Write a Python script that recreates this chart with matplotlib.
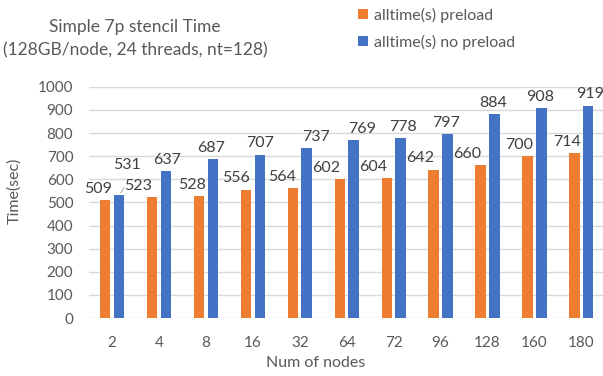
import numpy as np
import matplotlib
matplotlib.use("Agg")
import matplotlib.pyplot as plt

plt.rcParams["font.family"] = ["Lato", "DejaVu Sans"]

nodes = ["2", "4", "8", "16", "32", "64", "72", "96", "128", "160", "180"]
preload = [509, 523, 528, 556, 564, 602, 604, 642, 660, 700, 714]
no_preload = [531, 637, 687, 707, 737, 769, 778, 797, 884, 908, 919]

orange = "#ED7D31"
blue = "#4472C4"
grey = "#595959"
label_col = "#404040"

# label nudges (points) so the labels sit like the original
dx_orange = [-5, -10, -5, -7, -8, -10, -10, -10, -10, -6, -5]
dx_blue = [6, 1, -1, 0, 7, 6, 2, -1, -1, -1, 1]

fig = plt.figure(figsize=(6.03, 3.76), dpi=100)
ax = fig.add_axes([0.147, 0.154, 0.856, 0.615])

x = np.arange(len(nodes))
w = 0.223
off = 0.147
b1 = ax.bar(x - off, preload, w, color=orange, label="alltime(s) preload", zorder=3)
b2 = ax.bar(x + off, no_preload, w, color=blue, label="alltime(s) no preload", zorder=3)

for i, (bar, v) in enumerate(zip(b1, preload)):
    ax.annotate(str(v), (bar.get_x() + bar.get_width() / 2, v),
                xytext=(dx_orange[i], 3), textcoords="offset points",
                ha="center", va="bottom", fontsize=11.5, color=label_col)
for i, (bar, v) in enumerate(zip(b2, no_preload)):
    dy = 17 if i == 0 else 3
    ax.annotate(str(v), (bar.get_x() + bar.get_width() / 2, v),
                xytext=(dx_blue[i], dy), textcoords="offset points",
                ha="center", va="bottom", fontsize=11.5, color=label_col)
# leader line for the raised 531 label
ax.annotate("", (x[0] + off, no_preload[0]), xytext=(x[0] + off + 0.15, no_preload[0] + 45),
            arrowprops=dict(arrowstyle="-", color="#a6a6a6", lw=0.7))

ax.set_ylim(0, 1000)
ax.set_yticks(np.arange(0, 1001, 100))
ax.set_xlim(-0.5, len(nodes) - 0.5)
ax.set_xticks(x)
ax.set_xticklabels(nodes)
ax.yaxis.grid(True, color="#d9d9d9", lw=1, zorder=0)
for s in ax.spines.values():
    s.set_visible(False)
ax.tick_params(axis="both", length=0, labelsize=11, colors=grey)
ax.tick_params(axis="x", pad=13)
ax.tick_params(axis="y", pad=11)

ax.set_xlabel("Num of nodes", fontsize=11.5, color=grey)
ax.xaxis.set_label_coords(0.44, -0.165)
ax.set_ylabel("Time(sec)", fontsize=11.5, color=grey)
ax.yaxis.set_label_coords(-0.13, 0.55)

fig.text(0.224, 0.927, "Simple 7p stencil Time", ha="center", va="center",
         fontsize=12.5, color=grey)
fig.text(0.224, 0.865, "(128GB/node, 24 threads, nt=128)", ha="center", va="center",
         fontsize=12.5, color=grey)

fig.legend(loc="upper left", bbox_to_anchor=(0.57, 1.018), frameon=False,
           fontsize=11.5, labelcolor=grey, handlelength=0.6, handleheight=0.6,
           handletextpad=0.4, labelspacing=0.75)

fig.savefig("out.png", dpi=100)
